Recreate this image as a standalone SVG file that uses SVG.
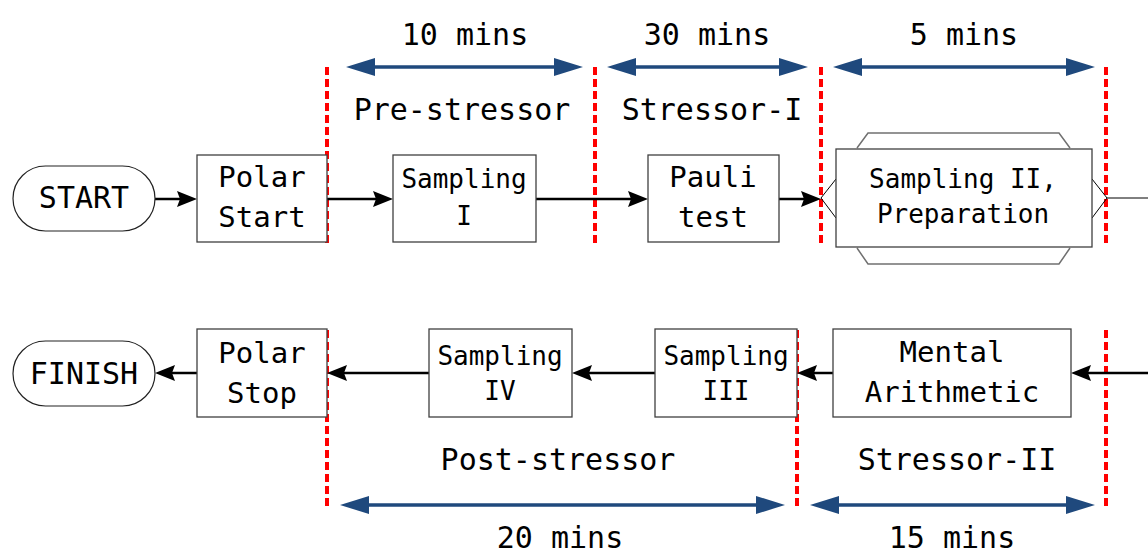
<svg xmlns="http://www.w3.org/2000/svg" width="1148" height="556" viewBox="0 0 1148 556">
<style>
text{font-family:"DejaVu Sans Mono","Liberation Mono",monospace;fill:#000;text-anchor:middle}
.big{font-size:30px}
.mid{font-size:29px}
.sm{font-size:26px}
.box{fill:#fff;stroke:#404040;stroke-width:1.3}
.term{fill:#fff;stroke:#222;stroke-width:1.2}
.conn{stroke:#000;stroke-width:2.5;fill:none;marker-end:url(#ah)}
.thin{stroke:#000;stroke-width:1;fill:none}
.gray{stroke:#707070;stroke-width:1.5;fill:none}
.red{stroke:#ff0000;stroke-width:4;stroke-dasharray:8,4;fill:none}
.dur{stroke:#1f497d;stroke-width:3.5;fill:none;marker-start:url(#bh);marker-end:url(#bh)}
</style>
<defs>
<marker id="ah" markerUnits="userSpaceOnUse" viewBox="0 0 20 16" markerWidth="20" markerHeight="16" refX="14" refY="8" orient="auto">
<path d="M0,0 L20,8 L0,16 L3,8 Z" fill="#000"/>
</marker>
<marker id="bh" markerUnits="userSpaceOnUse" viewBox="0 0 29 18" markerWidth="29" markerHeight="18" refX="19" refY="9" orient="auto-start-reverse">
<path d="M0,0 L29,9 L0,18 Z" fill="#1f497d"/>
</marker>
</defs>

<g id="phase-lines">
<line class="red" x1="327" y1="67" x2="327" y2="243"/>
<line class="red" x1="595" y1="67" x2="595" y2="243"/>
<line class="red" x1="821" y1="67" x2="821" y2="243"/>
<line class="red" x1="1106" y1="67" x2="1106" y2="243"/>
<line class="red" x1="327" y1="330" x2="327" y2="506"/>
<line class="red" x1="797" y1="330" x2="797" y2="506"/>
<line class="red" x1="1106" y1="330" x2="1106" y2="506"/>
</g>

<g id="durations">
<line class="dur" x1="356" y1="67" x2="573" y2="67"/>
<line class="dur" x1="617" y1="67" x2="798" y2="67"/>
<line class="dur" x1="843" y1="67" x2="1085" y2="67"/>
<line class="dur" x1="350" y1="505" x2="775" y2="505"/>
<line class="dur" x1="820" y1="505" x2="1085" y2="505"/>
<text class="big" x="465" y="45">10 mins</text>
<text class="big" x="707" y="45">30 mins</text>
<text class="big" x="964" y="45">5 mins</text>
<text class="big" x="560" y="548">20 mins</text>
<text class="big" x="952" y="548">15 mins</text>
</g>

<g id="phase-labels">
<text class="big" x="462" y="120">Pre-stressor</text>
<text class="big" x="712" y="120">Stressor-I</text>
<text class="big" x="558" y="470">Post-stressor</text>
<text class="big" x="957" y="470">Stressor-II</text>
</g>

<g id="connectors">
<line class="conn" x1="155" y1="199" x2="191" y2="199"/>
<line class="conn" x1="327" y1="199" x2="387" y2="199"/>
<line class="conn" x1="536" y1="199" x2="642" y2="199"/>
<line class="conn" x1="779" y1="199" x2="815" y2="199"/>
<line class="thin" x1="1107" y1="198" x2="1148" y2="198"/>
<line class="conn" x1="1148" y1="373" x2="1077" y2="373"/>
<line class="conn" x1="833" y1="373" x2="803" y2="373"/>
<line class="conn" x1="655" y1="373" x2="578" y2="373"/>
<line class="conn" x1="429" y1="373" x2="333" y2="373"/>
<line class="conn" x1="197" y1="373" x2="161" y2="373"/>
</g>

<g id="start">
<rect class="term" x="13" y="166" width="142" height="65" rx="32.5"/>
<text class="big" x="84" y="208">START</text>
</g>

<g id="polar-start">
<rect class="box" x="197" y="155" width="130" height="87"/>
<text class="mid" x="262" y="187">Polar</text>
<text class="mid" x="262" y="227">Start</text>
</g>

<g id="sampling-1">
<rect class="box" x="393" y="155" width="143" height="87"/>
<text class="sm" x="464" y="188">Sampling</text>
<text class="sm" x="464" y="225">I</text>
</g>

<g id="pauli-test">
<rect class="box" x="648" y="155" width="131" height="87"/>
<text class="mid" x="713" y="187">Pauli</text>
<text class="mid" x="713" y="227">test</text>
</g>

<g id="sampling-2">
<path class="gray" d="M857,148 L868,133 L1059,133 L1070,148"/>
<path class="gray" d="M857,248 L868,264 L1059,264 L1070,248"/>
<path class="thin" d="M836,179 L821,198 L836,218"/>
<path class="thin" d="M1092,179 L1107,198 L1092,218"/>
<rect class="box" x="836" y="149" width="256" height="98"/>
<text class="sm" x="963" y="188">Sampling II,</text>
<text class="sm" x="963" y="223">Preparation</text>
</g>

<g id="mental-arithmetic">
<rect class="box" x="833" y="329" width="238" height="88"/>
<text class="mid" x="952" y="362">Mental</text>
<text class="mid" x="952" y="402">Arithmetic</text>
</g>

<g id="sampling-3">
<rect class="box" x="655" y="329" width="142" height="88"/>
<text class="sm" x="726" y="365">Sampling</text>
<text class="sm" x="726" y="400">III</text>
</g>

<g id="sampling-4">
<rect class="box" x="429" y="329" width="143" height="88"/>
<text class="sm" x="500" y="365">Sampling</text>
<text class="sm" x="500" y="400">IV</text>
</g>

<g id="polar-stop">
<rect class="box" x="197" y="329" width="130" height="88"/>
<text class="mid" x="262" y="363">Polar</text>
<text class="mid" x="262" y="403">Stop</text>
</g>

<g id="finish">
<rect class="term" x="13" y="341" width="142" height="65" rx="32.5"/>
<text class="big" x="84" y="384">FINISH</text>
</g>
</svg>
